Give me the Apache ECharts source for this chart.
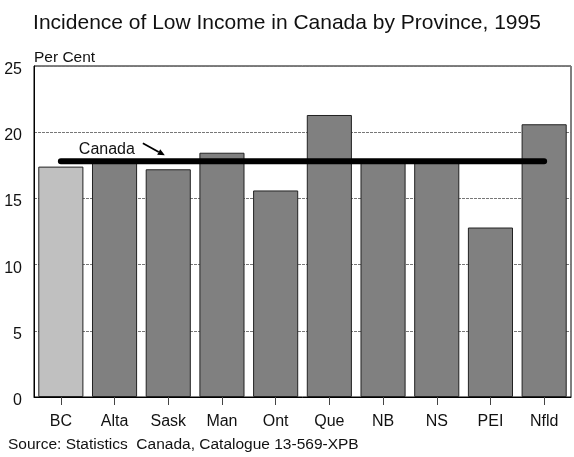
<!DOCTYPE html>
<html><head><meta charset="utf-8">
<script src="https://cdn.jsdelivr.net/npm/echarts@6/dist/echarts.min.js"></script>
<style>html,body{margin:0;padding:0;background:#fff}#c{width:574px;height:457px}</style>
</head><body><div id="c"></div>
<script>
const categories = ['BC','Alta','Sask','Man','Ont','Que','NB','NS','PEI','Nfld'];
const values = [17.4, 17.9, 17.2, 18.45, 15.6, 21.3, 17.8, 17.8, 12.8, 20.6];
const canadaValue = 17.8;
const yTicks = [0, 5, 10, 15, 20, 25];
const FONT = 'Liberation Sans, Arial, sans-serif';
const SOURCE = 'Source: Statistics  Canada, Catalogue 13-569-XPB';

const chart = echarts.init(document.getElementById('c'), null, {renderer: 'canvas'});
chart.setOption({
  animation: false,
  textStyle: {fontFamily: FONT},
  title: {
    text: 'Incidence of Low Income in Canada by Province, 1995',
    left: 'center', top: 8,
    textStyle: {fontFamily: FONT, fontSize: 21, fontWeight: 'normal', color: '#111'}
  },
  grid: {left: 34, right: 3, top: 66, bottom: 60, show: true, borderColor: '#000', borderWidth: 1,
         backgroundColor: 'transparent', containLabel: false, outerBoundsMode: 'none'},
  xAxis: {
    type: 'category', data: categories,
    axisLine: {lineStyle: {color: '#000', width: 1}},
    axisTick: {show: true, alignWithLabel: true, length: 8, lineStyle: {color: '#444'}},
    axisLabel: {fontFamily: FONT, fontSize: 16, color: '#111', margin: 17}
  },
  yAxis: {
    type: 'value', min: yTicks[0], max: yTicks[yTicks.length - 1], interval: 5,
    name: 'Per Cent', nameLocation: 'end', nameGap: 0,
    nameTextStyle: {fontFamily: FONT, fontSize: 15.5, color: '#111', align: 'left'},
    axisLine: {show: true, lineStyle: {color: '#000'}},
    axisTick: {show: false},
    axisLabel: {fontFamily: FONT, fontSize: 16, color: '#111', margin: 12, verticalAlign: 'top', lineHeight: 7},
    splitLine: {show: true, lineStyle: {color: '#777', type: [3, 1], width: 1}}
  },
  series: [
    {
      type: 'bar', data: values.map((v, i) => ({value: v, itemStyle: {color: i === 0 ? '#c0c0c0' : '#808080'}})),
      barCategoryGap: '16%',
      itemStyle: {borderColor: '#222', borderWidth: 1}
    },
    {
      type: 'line', data: categories.map(() => canadaValue),
      symbol: 'none', silent: true,
      lineStyle: {color: '#000', width: 6, cap: 'round'},
      z: 5
    }
  ]
});

// Annotation positioned relative to the Canada line via the axes
const p0 = chart.convertToPixel({xAxisIndex: 0, yAxisIndex: 0}, [0, canadaValue]);
const tx = p0[0] + 18, ty = p0[1] - 12;
const ax0 = [p0[0] + 82, p0[1] - 18], ax1 = [p0[0] + 104, p0[1] - 6];
const dx = ax1[0]-ax0[0], dy = ax1[1]-ax0[1], L = Math.hypot(dx,dy), ux = dx/L, uy = dy/L;
const b = [ax1[0]-ux*7, ax1[1]-uy*7];
chart.setOption({
  graphic: [
    {type: 'text', left: 8, bottom: 4,
     style: {text: SOURCE, fontFamily: FONT, fontSize: 15.5, fill: '#111'}},
    {type: 'text', x: tx, y: ty, z: 10,
     style: {text: 'Canada', fontFamily: FONT, fontSize: 16, fill: '#111', verticalAlign: 'middle'}},
    {type: 'line', z: 10, shape: {x1: ax0[0], y1: ax0[1], x2: b[0], y2: b[1]}, style: {stroke: '#000', lineWidth: 1.8}},
    {type: 'polygon', z: 10, shape: {points: [ax1, [b[0]-uy*3.2, b[1]+ux*3.2], [b[0]+uy*3.2, b[1]-ux*3.2]]}, style: {fill: '#000'}}
  ]
});
</script>
</body></html>
